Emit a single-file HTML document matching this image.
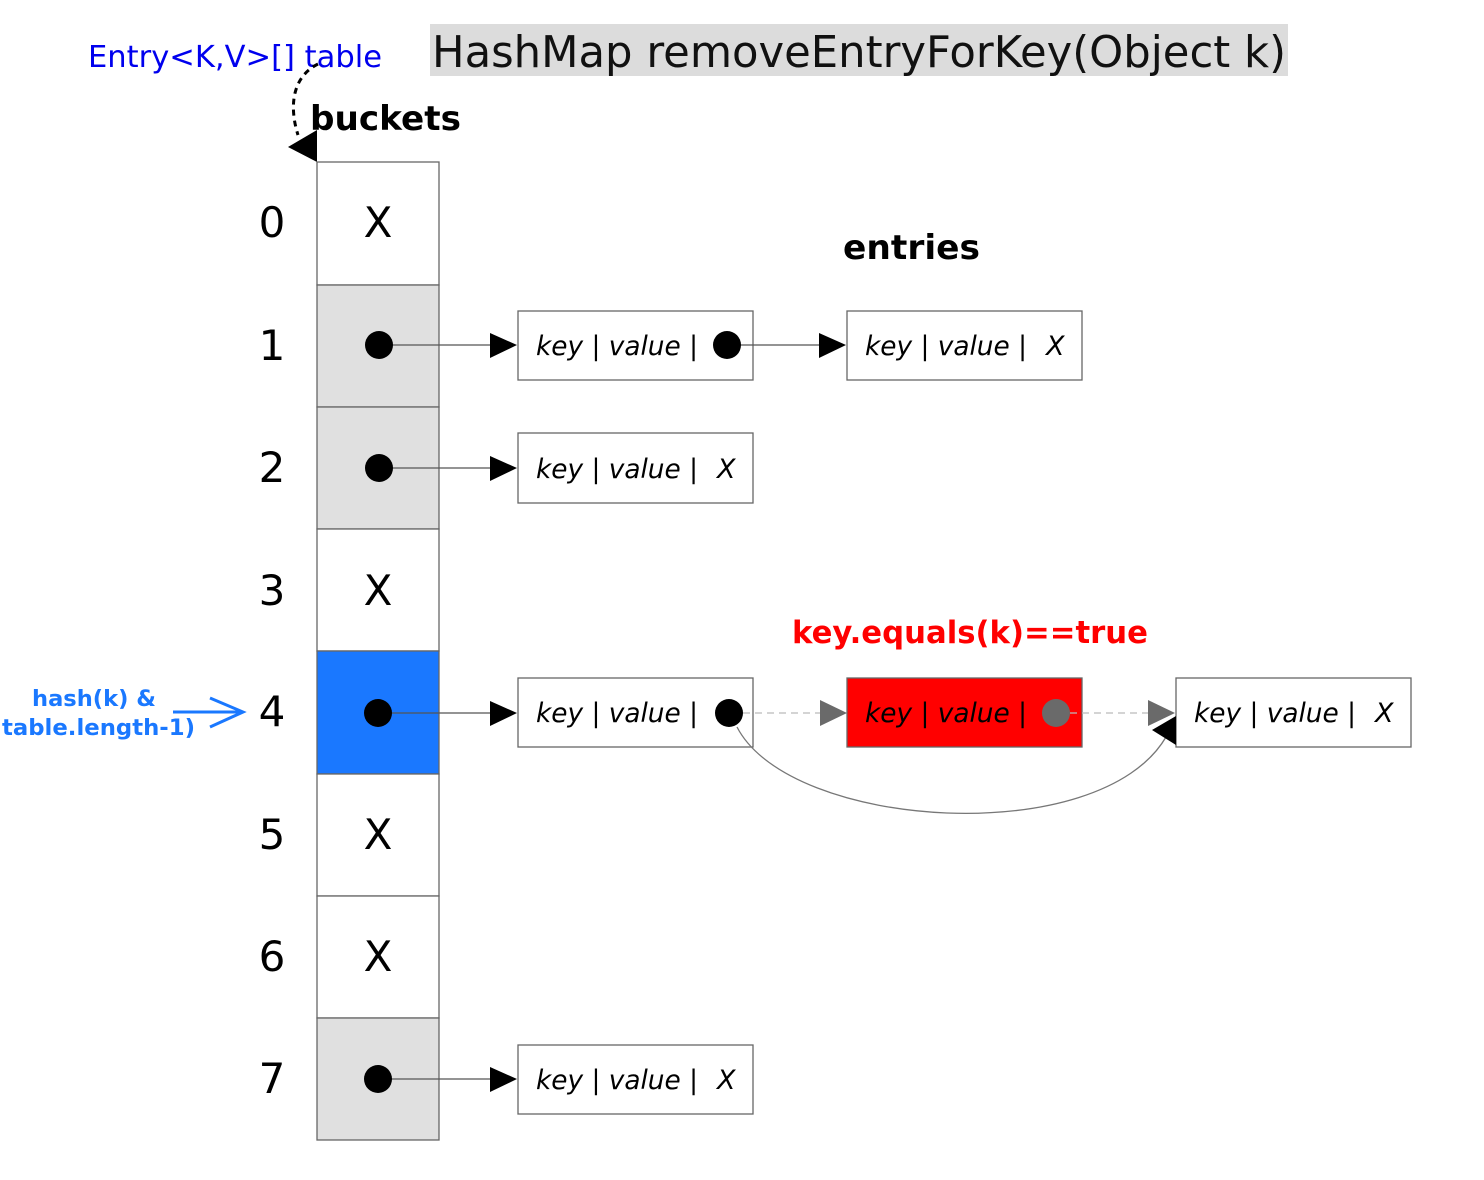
<!DOCTYPE html>
<html><head><meta charset="utf-8"><style>
html,body{margin:0;padding:0;background:#fff}
svg{display:block;font-family:"DejaVu Sans","Liberation Sans",sans-serif}
</style></head><body>
<svg width="1484" height="1180" viewBox="0 0 1484 1180" xmlns="http://www.w3.org/2000/svg" xml:space="preserve">
<rect x="430" y="24" width="858" height="52" fill="#dcdcdc"/>
<text x="432" y="67" font-size="44" fill="#111" textLength="854" lengthAdjust="spacingAndGlyphs">HashMap removeEntryForKey(Object k)</text>
<text x="88" y="67" font-size="30" fill="#0000ee" textLength="294" lengthAdjust="spacingAndGlyphs">Entry&lt;K,V&gt;[] table</text>
<path d="M318,64 C290,78 290,110 298,135" fill="none" stroke="#000" stroke-width="3" stroke-dasharray="6,5"/>
<path d="M288,147 L317,130 L317,162z" fill="#000"/>
<text x="310" y="130" font-size="34" font-weight="bold" textLength="151" lengthAdjust="spacingAndGlyphs">buckets</text>
<text x="843" y="259" font-size="34" font-weight="bold" textLength="137" lengthAdjust="spacingAndGlyphs">entries</text>
<g stroke="#666" stroke-width="1.3">
<rect x="317" y="162" width="122" height="123" fill="#fff"/>
<rect x="317" y="285" width="122" height="122" fill="#e0e0e0"/>
<rect x="317" y="407" width="122" height="122" fill="#e0e0e0"/>
<rect x="317" y="529" width="122" height="122" fill="#fff"/>
<rect x="317" y="651" width="122" height="123" fill="#1a78ff"/>
<rect x="317" y="774" width="122" height="122" fill="#fff"/>
<rect x="317" y="896" width="122" height="122" fill="#fff"/>
<rect x="317" y="1018" width="122" height="122" fill="#e0e0e0"/>
</g>
<g font-size="42" text-anchor="middle">
<text x="272" y="237">0</text><text x="272" y="360">1</text><text x="272" y="482">2</text><text x="272" y="605">3</text>
<text x="272" y="726">4</text><text x="272" y="849">5</text><text x="272" y="971">6</text><text x="272" y="1093">7</text>
<text x="378" y="237">X</text><text x="378" y="605">X</text><text x="378" y="849">X</text><text x="378" y="971">X</text>
</g>
<text x="32" y="706" font-size="22" font-weight="bold" fill="#1a78ff" textLength="124" lengthAdjust="spacingAndGlyphs">hash(k) &amp;</text>
<text x="2" y="735" font-size="22" font-weight="bold" fill="#1a78ff" textLength="193" lengthAdjust="spacingAndGlyphs">table.length-1)</text>
<path d="M173,712 L243,712 M210,698 L243,712 L210,727" fill="none" stroke="#1a78ff" stroke-width="3"/>
<g stroke="#666" stroke-width="1.3" fill="#fff">
<rect x="518" y="311" width="235" height="69"/>
<rect x="847" y="311" width="235" height="69"/>
<rect x="518" y="433" width="235" height="70"/>
<rect x="518" y="678" width="235" height="69"/>
<rect x="847" y="678" width="235" height="69" fill="#ff0000"/>
<rect x="1176" y="678" width="235" height="69"/>
<rect x="518" y="1045" width="235" height="69"/>
</g>
<g stroke="#555" stroke-width="1.2">
<line x1="378" y1="345" x2="490" y2="345"/>
<line x1="378" y1="468" x2="490" y2="468"/>
<line x1="378" y1="713" x2="490" y2="713"/>
<line x1="378" y1="1079" x2="490" y2="1079"/>
<line x1="727" y1="345" x2="819" y2="345"/>
</g>
<g fill="#000">
<path d="M490,333 L517,345 L490,358z"/><path d="M490,456 L517,468 L490,481z"/>
<path d="M490,701 L517,713 L490,726z"/><path d="M490,1067 L517,1079 L490,1092z"/>
<path d="M819,333 L846,345 L819,358z"/>
<circle cx="379" cy="345" r="14"/><circle cx="379" cy="468" r="14"/><circle cx="378" cy="713" r="14"/><circle cx="378" cy="1079" r="14"/>
<circle cx="727" cy="345" r="14"/><circle cx="729" cy="713" r="14"/>
</g>
<g stroke="#bbb" stroke-width="1.2" stroke-dasharray="7,5">
<line x1="743" y1="713" x2="820" y2="713"/><line x1="1070" y1="713" x2="1150" y2="713"/>
</g>
<path d="M820,700 L847,713 L820,726z" fill="#6a6a6a"/>
<path d="M1148,700 L1175,713 L1148,726z" fill="#6a6a6a"/>
<circle cx="1056" cy="713" r="14" fill="#6a6a6a"/>
<path d="M737,727 C790,830 1100,850 1166,737" fill="none" stroke="#777" stroke-width="1.3"/>
<path d="M1152,730 L1176,716 L1176,745z" fill="#000"/>
<text x="792" y="643" font-size="31" font-weight="bold" fill="#ff0000" textLength="356" lengthAdjust="spacingAndGlyphs">key.equals(k)==true</text>
<g font-size="27" font-style="italic">
<text x="536" y="355" textLength="162" lengthAdjust="spacingAndGlyphs">key | value |</text>
<text x="865" y="355" textLength="162" lengthAdjust="spacingAndGlyphs">key | value |</text><text x="1046" y="355">X</text>
<text x="536" y="478" textLength="162" lengthAdjust="spacingAndGlyphs">key | value |</text><text x="717" y="478">X</text>
<text x="536" y="722" textLength="162" lengthAdjust="spacingAndGlyphs">key | value |</text>
<text x="865" y="722" textLength="162" lengthAdjust="spacingAndGlyphs">key | value |</text>
<text x="1194" y="722" textLength="162" lengthAdjust="spacingAndGlyphs">key | value |</text><text x="1375" y="722">X</text>
<text x="536" y="1089" textLength="162" lengthAdjust="spacingAndGlyphs">key | value |</text><text x="717" y="1089">X</text>
</g>
</svg>
</body></html>
